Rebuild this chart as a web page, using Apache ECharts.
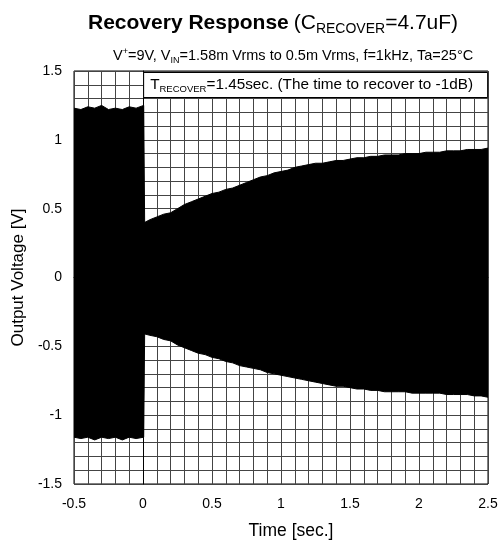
<!DOCTYPE html>
<html>
<head>
<meta charset="utf-8">
<script src="https://cdn.jsdelivr.net/npm/echarts@6/dist/echarts.min.js"></script>
<style>html,body{margin:0;padding:0;background:#fff}#c{width:501px;height:548px}</style>
</head>
<body>
<div id="c"></div>
<script>
// Envelope of the output waveform (time [s], voltage [V])
var upperT = [-0.5,-0.45,-0.4,-0.35,-0.3,-0.25,-0.2,-0.15,-0.1,-0.05,0.005,0.012,0.05,0.1,0.15,0.2,0.25,0.3,0.35,0.4,0.45,0.5,0.55,0.6,0.65,0.7,0.75,0.8,0.85,0.9,0.95,1.0,1.05,1.1,1.15,1.2,1.25,1.3,1.35,1.4,1.45,1.5,1.55,1.6,1.65,1.7,1.75,1.8,1.85,1.9,1.95,2.0,2.05,2.1,2.15,2.2,2.25,2.3,2.35,2.4,2.45,2.5];
var upperV = [1.23,1.22,1.24,1.23,1.25,1.22,1.23,1.22,1.24,1.23,1.25,0.40,0.42,0.44,0.46,0.47,0.50,0.53,0.55,0.57,0.59,0.61,0.62,0.64,0.65,0.67,0.69,0.71,0.73,0.74,0.76,0.77,0.78,0.80,0.81,0.82,0.83,0.83,0.84,0.85,0.85,0.86,0.87,0.87,0.88,0.88,0.89,0.89,0.89,0.90,0.90,0.90,0.91,0.91,0.91,0.92,0.92,0.92,0.93,0.93,0.93,0.94];
var lowerV = [-1.16,-1.17,-1.16,-1.18,-1.16,-1.17,-1.16,-1.18,-1.16,-1.17,-1.16,-0.41,-0.42,-0.43,-0.45,-0.46,-0.49,-0.51,-0.53,-0.55,-0.56,-0.58,-0.59,-0.61,-0.62,-0.64,-0.65,-0.66,-0.67,-0.69,-0.70,-0.71,-0.72,-0.73,-0.74,-0.75,-0.76,-0.77,-0.78,-0.79,-0.79,-0.80,-0.81,-0.81,-0.82,-0.82,-0.83,-0.83,-0.83,-0.83,-0.84,-0.84,-0.84,-0.84,-0.84,-0.85,-0.85,-0.85,-0.85,-0.86,-0.86,-0.87];
var xTicks = {min:-0.5, max:2.5, step:0.5};
var yTicks = {min:-1.5, max:1.5, step:0.5};

var font = 'Liberation Sans, Arial, sans-serif';
function st(size, lh, extra){
  var o = {fontFamily:font, fontSize:size, fontWeight:'normal', color:'#000', lineHeight:lh};
  for (var k in extra) o[k] = extra[k];
  return o;
}
var upper = upperT.map(function(t,i){return [t, upperV[i]];});
var lower = upperT.map(function(t,i){return [t, lowerV[i]];});
var gridLine = {show:true, lineStyle:{color:'#444', width:1}};
var chart = echarts.init(document.getElementById('c'), null, {renderer:'canvas'});
chart.setOption({
  animation:false,
  backgroundColor:'#fff',
  title:[{
    text:'{b|Recovery Response} {n|(C}{s|RECOVER}{n|=4.7uF)}',
    left:83, top:6,
    textStyle:{fontWeight:'normal', rich:{
      b:st(21, 25, {fontWeight:'bold'}),
      n:st(21, 25),
      s:st(14, 15, {verticalAlign:'bottom'})
    }}
  },{
    text:'{n|V}{p|+}{n|=9V, V}{s|IN}{n|=1.58m Vrms to 0.5m Vrms, f=1kHz, Ta=25°C}',
    left:108, top:42,
    textStyle:{fontWeight:'normal', rich:{
      n:st(14.5, 18),
      p:st(9, 10, {verticalAlign:'top'}),
      s:st(9, 10, {verticalAlign:'bottom'})
    }}
  },{
    text:'{n|T}{s|RECOVER}{n|=1.45sec. (The time to recover to -1dB)}',
    right:13, top:71,
    backgroundColor:'#fff', borderColor:'#000', borderWidth:1,
    padding:[5,15,4,7],
    textStyle:{fontWeight:'normal', rich:{
      n:st(15.3, 18),
      s:st(9.5, 10, {verticalAlign:'bottom'})
    }}
  }],
  grid:{left:74, right:13, top:71, bottom:64, show:true, borderColor:'#000', borderWidth:1, backgroundColor:'transparent'},
  xAxis:{
    type:'value', min:xTicks.min, max:xTicks.max, interval:xTicks.step,
    name:'Time [sec.]', nameLocation:'middle', nameGap:38,
    nameTextStyle:{fontFamily:font, fontSize:17.5, color:'#000', padding:[0,0,0,20]},
    axisLine:{show:true, lineStyle:{color:'#000'}},
    axisTick:{show:false},
    axisLabel:{fontFamily:font, fontSize:14, color:'#000', margin:13},
    splitLine:gridLine,
    minorTick:{show:false, splitNumber:5},
    minorSplitLine:gridLine
  },
  yAxis:{
    type:'value', min:yTicks.min, max:yTicks.max, interval:yTicks.step,
    name:'Output Voltage [V]', nameLocation:'middle', nameGap:47,
    nameTextStyle:{fontFamily:font, fontSize:17, color:'#000'},
    axisLine:{show:true, lineStyle:{color:'#000'}},
    axisTick:{show:false},
    axisLabel:{fontFamily:font, fontSize:14, color:'#000', margin:12},
    splitLine:gridLine,
    minorTick:{show:false, splitNumber:5},
    minorSplitLine:gridLine
  },
  series:[{
    type:'line', data:upper, symbol:'none', z:3,
    lineStyle:{color:'#000', width:1}, areaStyle:{color:'#000', opacity:1, origin:'auto'}
  },{
    type:'line', data:lower, symbol:'none', z:3,
    lineStyle:{color:'#000', width:1}, areaStyle:{color:'#000', opacity:1, origin:'auto'}
  }]
});
</script>
</body>
</html>
